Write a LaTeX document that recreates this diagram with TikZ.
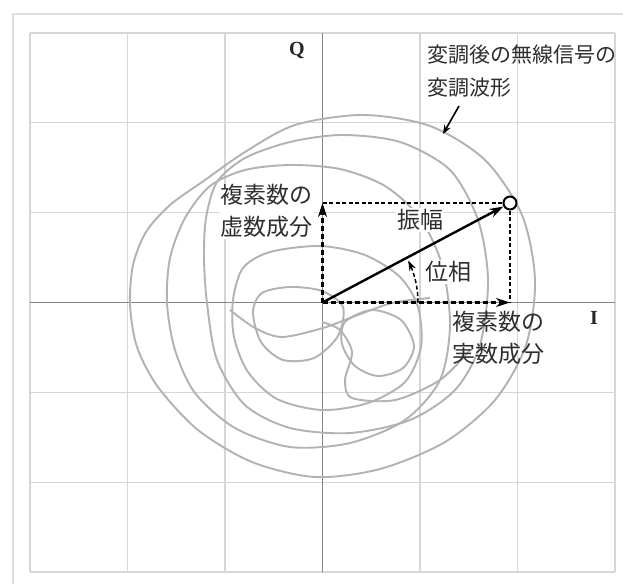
\documentclass[tikz,border=0pt]{standalone}
\usepackage{fontspec}
\setmainfont{Liberation Serif}
\newfontfamily\jp{Noto Sans CJK JP}
\usetikzlibrary{arrows.meta}
\begin{document}
\begin{tikzpicture}[x=1pt,y=-1pt,
  frameline/.style={draw=black!13,line width=1.8pt},
  gridline/.style={draw=black!16,line width=1.3pt},
  axisline/.style={draw=black!48,line width=1.3pt},
  wave/.style={draw=black!30,line width=1.9pt,line join=round},
  vec/.style={draw=black,line width=2.4pt,-{Stealth[length=14pt,width=9pt]}},
  dvec/.style={draw=black,line width=2.2pt,dash pattern=on 5pt off 3pt,-{Stealth[length=14pt,width=9pt]}},
  thindash/.style={draw=black,line width=1.4pt,dash pattern=on 4pt off 2.5pt},
  lbl/.style={font=\jp\fontsize{23}{32}\selectfont,text=black!82,inner sep=1pt},
  toplbl/.style={font=\jp\fontsize{21}{33}\selectfont,text=black!82,inner sep=1pt},
  axlbl/.style={font=\bfseries\fontsize{20}{20}\selectfont,text=black!85,inner sep=0pt},
  dot/.style={circle,draw=black,line width=2pt,fill=white,minimum size=13pt,inner sep=0pt}
]
\useasboundingbox (0,0) rectangle (623,584);
\fill[white] (0,0) rectangle (623,584);
% frame
\draw[frameline] (13,584) -- (13,14) -- (623,14);
% grid
\foreach \i in {0,...,6} {
  \draw[gridline] ({30+97.5*\i},33) -- ({30+97.5*\i},572);
  \draw[gridline] (30,{33+89.83*\i}) -- (615,{33+89.83*\i});
}
% axes
\draw[axisline] (322.5,33) -- (322.5,572);
\draw[axisline] (30,302.5) -- (615,302.5);
\node[axlbl] (qlab) at (297,50) {Q};
\node[axlbl] (ilab) at (594,318) {I};
% modulation waveform loops
\draw[wave] plot[smooth cycle,tension=0.5] coordinates {
  (130,305) (133,265) (146,232) (170,205) (205,180) (245,152) (295,125)
  (363,115) (430,126) (485,160) (522,215) (535,280) (526,345) (495,400)
  (445,442) (380,469) (315,477) (252,462) (198,430) (158,387) (137,347)};
\draw[wave] plot[smooth cycle,tension=0.5] coordinates {
  (207,303) (204,258) (206,218) (217,182) (245,158) (290,142) (342,135)
  (400,142) (450,170) (478,220) (488,280) (480,345) (455,390) (410,420)
  (350,433) (290,428) (245,405) (217,360)};
\draw[wave] plot[smooth cycle,tension=0.5] coordinates {
  (167,303) (170,258) (185,218) (210,186) (245,170) (290,165) (340,169)
  (385,186) (420,218) (442,265) (450,325) (440,380) (405,420) (350,443)
  (290,447) (235,428) (195,393) (175,350)};
\draw[wave] plot[smooth cycle,tension=0.5] coordinates {
  (233,300) (243,268) (270,252) (320,246) (365,255) (400,277) (418,307)
  (421,347) (405,382) (368,403) (322,410) (277,399) (248,372) (234,337)};
\draw[wave] plot[smooth cycle,tension=0.5] coordinates {
  (253,312) (262,293) (290,287) (322,291) (343,307) (338,336) (314,358)
  (283,360) (261,342)};
\draw[wave] plot[smooth cycle,tension=0.5] coordinates {
  (345,322) (372,310) (401,320) (414,346) (403,368) (378,376) (355,366)
  (342,344)};
\draw[wave] plot[smooth,tension=0.5] coordinates {
  (230,310) (255,328) (282,337) (323,328) (350,318) (392,303) (430,298)};
\draw[wave] plot[smooth,tension=0.5] coordinates {
  (322,322) (340,330) (352,352) (345,380) (352,398) (395,400) (440,380)
  (470,350)};
% vector construction
\coordinate (O) at (322.5,302.5);
\node[dot] (tip) at (510,203) {};
\coordinate (Qc) at (322.5,203);
\coordinate (Ic) at (510,302.5);
\draw[thindash] (Qc) -- (tip);
\draw[thindash] (tip) -- (Ic);
\draw[dvec] (O) -- (Qc);
\draw[dvec] (O) -- (Ic);
\draw[vec] (O) -- (tip);
\draw[draw=black,line width=1.5pt,dash pattern=on 4pt off 2.5pt,-{Stealth[length=10pt,width=7pt]}]
  plot[domain=0:26,samples=30] ({322.5+95.5*cos(\x)},{302.5-95.5*sin(\x)});
% labels
\node[lbl,fill=white] (amp) at (420,220) {振幅};
\node[lbl,fill=white] (phase) at (448,272) {位相};
\node[lbl,anchor=east,align=right,fill=white] (imag) at (314,211) {複素数の\\虚数成分};
\node[lbl,anchor=west,align=left] (real) at (451,338) {複素数の\\実数成分};
\node[toplbl,anchor=west,align=left] (wav) at (426,71.5) {変調後の無線信号の\\変調波形};
\coordinate (la1) at (459,106);
\coordinate (la2) at (443,134);
\draw[draw=black,line width=1.6pt,-{Stealth[length=9pt,width=7pt]}] (la1) -- (la2);
\end{tikzpicture}
\end{document}
